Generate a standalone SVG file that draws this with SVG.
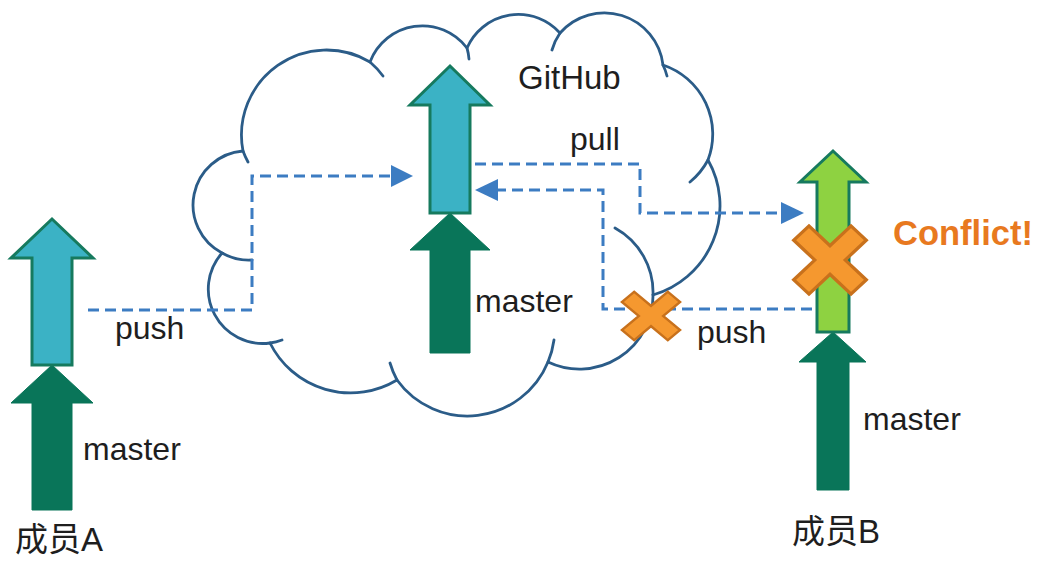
<svg xmlns="http://www.w3.org/2000/svg" width="1055" height="584" viewBox="0 0 1055 584">
<style>
.cloud{fill:none;stroke:#2b5c88;stroke-width:2.8;stroke-linecap:round}
.dash{fill:none;stroke:#3c7cc2;stroke-width:3;stroke-dasharray:11 6}
.ah{fill:#3c7cc2}
.cyan{fill:#3bb2c5;stroke:#167a5e;stroke-width:3}
.lime{fill:#8ed241;stroke:#167a5e;stroke-width:3}
.dark{fill:#097559;stroke:#097559;stroke-width:1}
.lbl{font-family:"Liberation Sans","Noto Sans CJK SC",sans-serif;font-size:32px;fill:#1e1e1e}
.cjk{font-family:"Liberation Sans","Noto Sans CJK SC",sans-serif;font-size:33px;fill:#1e1e1e}
.x{fill:#f5982f;stroke:#c8711c;stroke-width:2.5;stroke-linejoin:miter}
</style>
<defs>
<path id="xmark" d="M30,-8 L30,8 L8,8 L8,30 L-8,30 L-8,8 L-30,8 L-30,-8 L-8,-8 L-8,-30 L8,-30 L8,-8 Z"/>
</defs>
<rect width="1055" height="584" fill="#ffffff"/>

<g id="cloud">
<path class="cloud" d="M243,151 A85,85 0 0 1 370,62 A56,56 0 0 1 467,48 A56,56 0 0 1 560,33 A59,59 0 0 1 663,65 A73,73 0 0 1 708,160 A93,93 0 0 1 653,295 A73.5,73.5 0 0 1 548,362 A87,87 0 0 1 397,380 A90,90 0 0 1 270,343 A54.4,54.4 0 0 1 222,253 A54.2,54.2 0 0 1 243,151 Z"/>
<path class="cloud" d="M248,162 A85,85 0 0 1 243,151 M370,62 A85,85 0 0 1 383,76 M467,48 A56,56 0 0 1 469,59 M552,50 A59,59 0 0 1 560,33 M663,65 A59,59 0 0 1 667,76 M708,160 A73,73 0 0 1 690,182 M615,228 A73.5,73.5 0 0 1 653,295 M554,340 A87,87 0 0 1 548,362 M397,380 A87,87 0 0 1 390,363 M282,340 A54.4,54.4 0 0 1 270,343 M252,260 A54.2,54.2 0 0 1 222,253"/>
<text class="lbl" x="518" y="89" style="font-size:33px">GitHub</text>
</g>

<g id="memberA">
<path class="dark" d="M52,365 L93,403 L72,403 L72,510 L32,510 L32,403 L11,403 Z"/>
<path class="cyan" d="M52,219 L93,258 L72,258 L72,365 L32,365 L32,258 L11,258 Z"/>
<text class="lbl" x="83" y="460">master</text>
<text class="cjk" x="15" y="551">成员A</text>
</g>

<g id="remote">
<path class="dark" d="M450,213 L490,250 L470,250 L470,353 L430,353 L430,250 L410,250 Z"/>
<path class="cyan" d="M450,66 L490,105 L470,105 L470,213 L430,213 L430,105 L410,105 Z"/>
<text class="lbl" x="475" y="312">master</text>
</g>

<g id="memberB">
<path class="dark" d="M833,332 L866,362 L849,362 L849,490 L817,490 L817,362 L799,362 Z"/>
<path class="lime" d="M833,151 L866,182 L849,182 L849,332 L817,332 L817,182 L800,182 Z"/>
<text class="lbl" x="863" y="430">master</text>
<text class="cjk" x="792" y="543">成员B</text>
</g>

<g id="connectors">
<path class="dash" d="M88,310 H252 V176 H392"/>
<polygon class="ah" points="391,165 413,176 391,187"/>
<path class="dash" d="M475,164 H640 V213 H782"/>
<polygon class="ah" points="781,202 804,213 781,224"/>
<path class="dash" d="M812,309 H603 V190 H497"/>
<polygon class="ah" points="498,179 475,190 498,201"/>
<text class="lbl" x="115" y="339">push</text>
<text class="lbl" x="570" y="150">pull</text>
<text class="lbl" x="697" y="343">push</text>
</g>

<g id="reject-push">
<use href="#xmark" class="x" transform="translate(651,316) scale(1.08,0.9) rotate(45)"/>
</g>

<g id="conflict">
<use href="#xmark" class="x" transform="translate(830,260) scale(1.35,1.27) rotate(45)"/>
<text x="893" y="245" style="font-family:'Liberation Sans',sans-serif;font-weight:bold;font-size:34.5px;fill:#e8791f">Conflict!</text>
</g>
</svg>
